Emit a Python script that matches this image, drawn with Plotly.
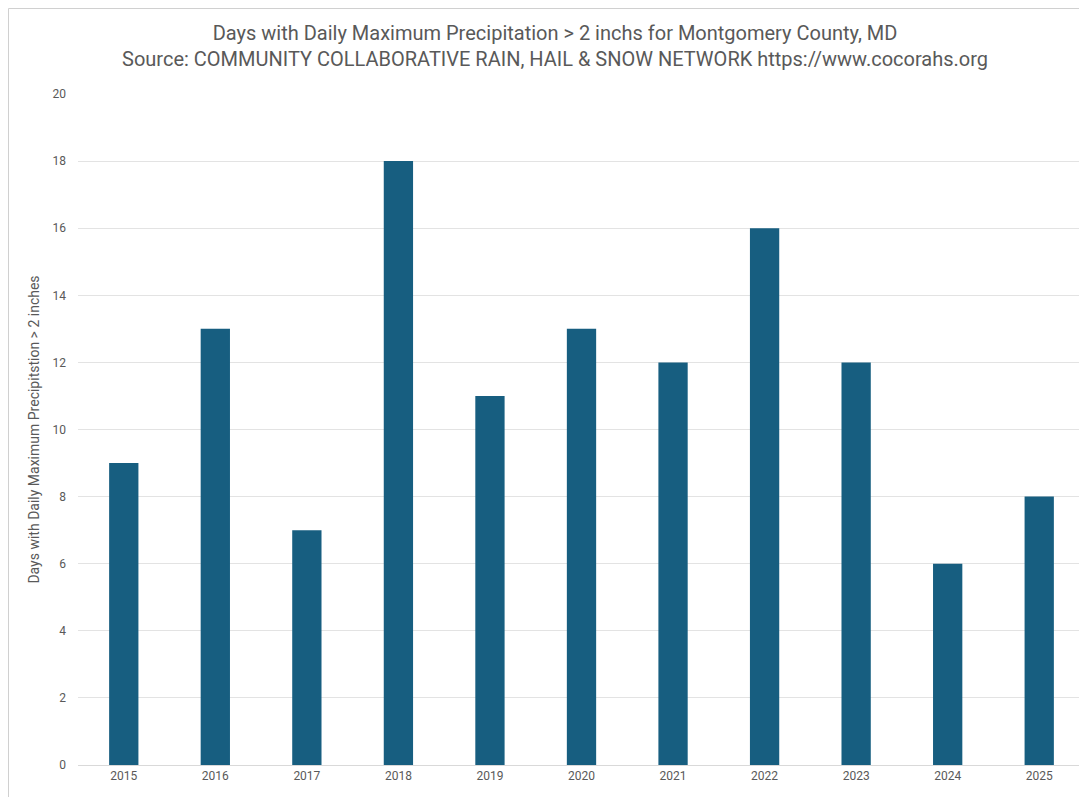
import plotly.graph_objects as go

years = ["2015", "2016", "2017", "2018", "2019", "2020", "2021", "2022", "2023", "2024", "2025"]
days = [9, 13, 7, 18, 11, 13, 12, 16, 12, 6, 8]
y_ticks = [0, 2, 4, 6, 8, 10, 12, 14, 16, 18, 20]

fig = go.Figure(go.Bar(x=years, y=days, marker=dict(color="#175E80", line=dict(width=0))))

W, H = 1079, 789
L, R, T, B = 70, 2, 86, 32
pw, ph = W - L - R, H - T - B

fig.update_layout(
    width=W, height=H,
    margin=dict(l=L, r=R, t=T, b=B),
    paper_bgcolor="white", plot_bgcolor="white",
    bargap=0.68,
    showlegend=False,
    font=dict(family="Roboto, Arial, sans-serif", color="#595959"),
    title=dict(
        text="Days with Daily Maximum Precipitation > 2 inchs for Montgomery County, MD<br>Source: COMMUNITY COLLABORATIVE RAIN, HAIL & SNOW NETWORK https://www.cocorahs.org",
        x=0.507, xanchor="center", y=0.96, yanchor="top",
        font=dict(size=20, color="#595959", family="Roboto, Arial, sans-serif"),
    ),
    xaxis=dict(
        type="category", showgrid=False, showline=True, linecolor="#d9d9d9", linewidth=1,
        ticks="", tickfont=dict(size=12, color="#595959"),
    ),
    yaxis=dict(
        range=[0, 20], tickvals=y_ticks, showgrid=True, gridcolor="#e3e3e3", gridwidth=1,
        zeroline=False, showline=False, ticks="", tickfont=dict(size=12, color="#595959"),
        ticklabelstandoff=11,
        title=dict(text="Days with Daily Maximum Precipitstion > 2 inches", font=dict(size=14, color="#595959"), standoff=9),
    ),
    shapes=[
        dict(type="line", xref="paper", yref="paper",
             x0=(0.5 - L) / pw, x1=(0.5 - L) / pw, y0=-(B + 5) / ph, y1=(ph + T - 0.5) / ph,
             line=dict(color="#d0d0d0", width=1)),
        dict(type="line", xref="paper", yref="paper",
             x0=(0.5 - L) / pw, x1=1.05, y0=(ph + T - 0.5) / ph, y1=(ph + T - 0.5) / ph,
             line=dict(color="#d0d0d0", width=1)),
    ],
)

fig.write_html("out.html")
